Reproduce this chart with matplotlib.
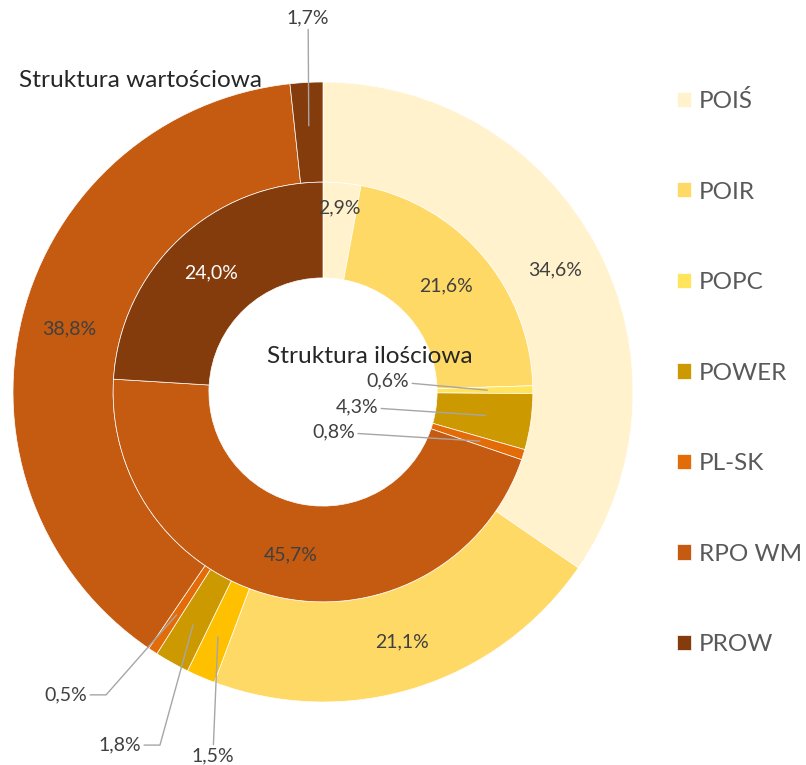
import numpy as np
import matplotlib
matplotlib.use("Agg")
import matplotlib.pyplot as plt

plt.rcParams["font.family"] = ["Lato", "DejaVu Sans"]

programs = ["POIŚ", "POIR", "POPC", "POWER", "PL-SK", "RPO WM", "PROW"]
value_share = [34.6, 21.1, 1.5, 1.8, 0.5, 38.8, 1.7]     # outer ring, Struktura wartościowa
count_share = [2.9, 21.6, 0.6, 4.3, 0.8, 45.7, 24.0]     # inner ring, Struktura ilościowa

inner_colors = ["#FFF2CC", "#FFD966", "#FFE45C", "#CC9900", "#E36C09", "#C55A11", "#843C0C"]
outer_colors = ["#FFF2CC", "#FFD966", "#FFC000", "#CC9900", "#E36C09", "#C55A11", "#843C0C"]

W, H = 806, 765
fig = plt.figure(figsize=(W / 100, H / 100), dpi=100)
cx, cy, R = 323, 392, 310
ax = fig.add_axes([(cx - R) / W, (H - cy - R) / H, 2 * R / W, 2 * R / H])

R_MID = 0.677
R_HOLE = 0.368
wedge_kw = dict(edgecolor="white", linewidth=0.5)

outer, _ = ax.pie(value_share, radius=1.0, colors=outer_colors, startangle=90,
                  counterclock=False, wedgeprops=dict(width=1.0 - R_MID, **wedge_kw))
inner, _ = ax.pie(count_share, radius=R_MID, colors=inner_colors, startangle=90,
                  counterclock=False, wedgeprops=dict(width=R_MID - R_HOLE, **wedge_kw))
ax.set_xlim(-1, 1)
ax.set_ylim(-1, 1)
ax.axis("off")


def mid_angles(vals):
    vals = np.asarray(vals, dtype=float)
    cum = np.cumsum(vals) - vals / 2
    return np.deg2rad(90 - 360 * cum / vals.sum())


def fmt(v):
    return f"{v:.1f}".replace(".", ",") + "%"


LABEL_COLOR = "#404040"
LINE_COLOR = "#A6A6A6"
FS = 14

# outer ring labels: None -> inside wedge, else (text x, text y, knee x or None)
outer_lbl = [None, None,
             (-0.355, -1.174, None),
             (-0.655, -1.139, -0.526),
             (-0.829, -0.977, -0.70),
             None,
             (-0.048, 1.206, None)]
inner_lbl = [None, None,
             (0.21, 0.035, None),
             (0.11, -0.048, None),
             (0.035, -0.129, None),
             None, None]
inner_r = [0.595, 0.525, 0.525, 0.525, 0.525, 0.535, 0.527]
inner_txt = [LABEL_COLOR] * 6 + ["white"]


def place(vals, lbls, r_in, r_lead, colors=None):
    for i, (v, a) in enumerate(zip(vals, mid_angles(vals))):
        spec = lbls[i]
        r = r_in[i] if isinstance(r_in, list) else r_in
        col = colors[i] if colors else LABEL_COLOR
        if spec is None:
            ax.text(r * np.cos(a), r * np.sin(a), fmt(v), ha="center", va="center",
                    fontsize=FS, color=col)
            continue
        tx, ty, knee = spec
        px, py = r_lead * np.cos(a), r_lead * np.sin(a)
        if knee is None:
            cs = "arc3"
        else:
            angB = np.degrees(np.arctan2(py - ty, px - knee))
            cs = f"angle,angleA=0,angleB={angB:.1f},rad=0"
        ax.annotate(fmt(v), xy=(px, py), xytext=(tx, ty), ha="center", va="center",
                    fontsize=FS, color=col, annotation_clip=False,
                    arrowprops=dict(arrowstyle="-", color=LINE_COLOR, lw=1.0,
                                    connectionstyle=cs, shrinkA=0, shrinkB=0))


place(value_share, outer_lbl, 0.845, 0.86)
place(count_share, inner_lbl, inner_r, 0.53, inner_txt)

ax.text(-0.590, 1.006, "Struktura wartościowa", ha="center", va="center",
        fontsize=17.6, color="#262626")
ax.text(0.152, 0.116, "Struktura ilościowa", ha="center", va="center",
        fontsize=17.6, color="#262626")

fig.legend(inner, programs, loc="upper left", bbox_to_anchor=(677 / W, 1 - 90 / H),
           frameon=False, fontsize=17.5, labelcolor="#595959", handlelength=0.58,
           handleheight=0.58, handletextpad=0.33, labelspacing=2.86,
           borderpad=0, borderaxespad=0)

fig.savefig("out.png", dpi=100)
plt.close(fig)
